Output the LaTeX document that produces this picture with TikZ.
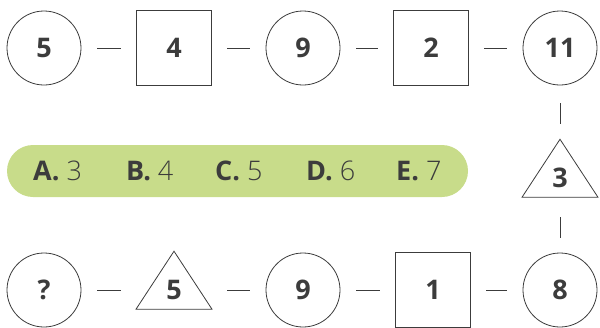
\documentclass[tikz,border=0pt]{standalone}
\usepackage{fontspec}
\setmainfont{Open Sans}
\newfontfamily\lightfont{Open Sans Light}
\usetikzlibrary{shapes.geometric}
\definecolor{ink}{HTML}{3C3C3C}
\definecolor{pillgreen}{HTML}{C8DC8A}
\tikzset{
  cell/.style={draw=ink, line width=0.8pt, text=ink, inner sep=0pt,
    font=\fontsize{27}{31}\selectfont\bfseries},
  ring/.style={cell, circle, minimum size=74pt},
  box/.style={cell, rectangle, minimum size=75pt},
  tri/.style={cell, isosceles triangle, shape border rotate=90,
    isosceles triangle stretches, minimum width=76pt, minimum height=58pt},
  link/.style={draw=ink, line width=0.7pt, shorten >=53pt, shorten <=53pt},
  pill/.style={fill=pillgreen, rounded corners=26pt, minimum width=461pt,
    minimum height=52pt},
  choice/.style={text=ink, inner sep=0pt, anchor=west,
    font=\fontsize{27}{31}\selectfont},
}
\begin{document}
\begin{tikzpicture}[x=1pt, y=-1pt]
   \useasboundingbox (0,0) rectangle (600,327);
   % top row
   \node[ring] (t1) at (44,48) {5};
   \node[box]  (t2) at (174,48) {4};
   \node[ring] (t3) at (303,48) {9};
   \node[box]  (t4) at (431,48) {2};
   \node[ring] (t5) at (560,48) {11};
   % right side
   \node[tri] (r) at (560,178) {3};
   % bottom row
   \node[ring] (b1) at (44,290) {?};
   \node[tri]  (b2) at (174,290) {5};
   \node[ring] (b3) at (303,290) {9};
   \node[box]  (b4) at (433,290) {1};
   \node[ring] (b5) at (560,290) {8};
   \foreach \a/\b in {t1/t2, t2/t3, t3/t4, t4/t5, b1/b2, b2/b3, b3/b4, b4/b5}
     \draw[link] (\a.center) -- (\b.center);
   \draw[link, shorten <=55pt, shorten >=54pt] (t5.center) -- (r.center);
   \draw[link, shorten <=39pt, shorten >=52pt] (r.center) -- (b5.center);
   % answer choices
   \node[pill] (choices) at (237.5,171) {};
   \foreach \x/\l/\v in
     { 33/A/3,
      126/B/4,
      215/C/5,
      306/D/6,
      396/E/7
     }
     \node[choice] (opt\l) at (\x,171) {\textbf{\l.} {\lightfont\v}};
\end{tikzpicture}
\end{document}
